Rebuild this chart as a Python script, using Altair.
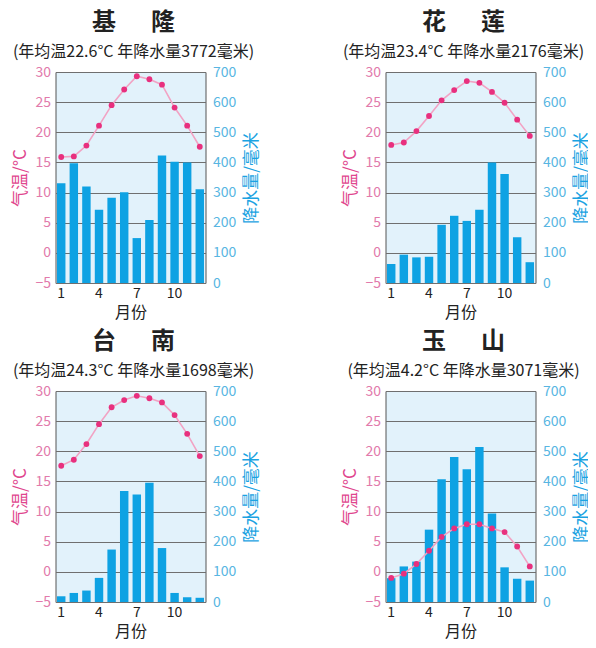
import altair as alt
import pandas as pd

months = list(range(1, 13))

GAP = "\u3000\u00a0\u00a0"
names = ["基" + GAP + "隆", "花" + GAP + "莲", "台" + GAP + "南", "玉" + GAP + "山"]
LEAD = "\u00a0"
subtitles = [
    LEAD + "(年均温22.6°C  年降水量3772毫米)",
    LEAD + "(年均温23.4°C  年降水量2176毫米)",
    LEAD + "(年均温24.3°C  年降水量1698毫米)",
    LEAD + "(年均温4.2°C  年降水量3071毫米)",
]

keelung_temp = [15.9, 16.0, 17.8, 21.1, 24.5, 27.1, 29.3, 28.8, 27.9, 24.1, 21.1, 17.6]
keelung_prec = [331, 397, 320, 243, 283, 301, 149, 209, 423, 402, 400, 311]

hualien_temp = [17.9, 18.3, 20.2, 22.7, 25.3, 27.0, 28.5, 28.2, 26.7, 24.9, 22.1, 19.4]
hualien_prec = [63, 94, 85, 87, 193, 223, 206, 243, 400, 362, 152, 69]

tainan_temp = [17.6, 18.6, 21.2, 24.5, 27.3, 28.5, 29.2, 28.8, 28.1, 26.0, 22.9, 19.2]
tainan_prec = [19, 30, 38, 80, 174, 368, 357, 396, 179, 30, 16, 14]

yushan_temp = [-1.0, -0.3, 1.3, 3.5, 5.8, 7.2, 7.9, 7.9, 7.2, 6.6, 4.2, 0.9]
yushan_prec = [79, 118, 134, 240, 407, 481, 440, 514, 294, 115, 77, 71]

temp_ticks = [-5, 0, 5, 10, 15, 20, 25, 30]
prec_ticks = [0, 100, 200, 300, 400, 500, 600, 700]
month_ticks = [1, 4, 7, 10]

BAR = "#0ea2e3"
LINE = "#f2a3c4"
DOT = "#e8307e"
PINK_LABEL = "#e27aab"
PINK_TITLE = "#e0468e"
BLUE_LABEL = "#58b6e2"
BLUE_TITLE = "#1ba3e2"
FONT = "Noto Sans CJK SC"


def panel(name, sub, temps, precs):
    df = pd.DataFrame({"month": months, "temp": temps, "prec": precs})
    xenc = alt.X(
        "month:O",
        scale=alt.Scale(paddingInner=0.33, paddingOuter=0.12),
        axis=alt.Axis(
            values=month_ticks, title="月份", labelAngle=0, ticks=False, domain=False,
            labelColor="#222", labelFontSize=14, titleFontSize=16, titleFontWeight="normal",
            titleColor="#222", labelPadding=3, titlePadding=4,
        ),
    )
    bars = alt.Chart(df).mark_bar(color=BAR).encode(
        x=xenc,
        y=alt.Y(
            "prec:Q",
            scale=alt.Scale(domain=[0, 700], nice=False),
            axis=alt.Axis(
                orient="right", values=prec_ticks, grid=False, ticks=False, domain=False,
                labelColor=BLUE_LABEL, labelFontSize=14, labelPadding=7,
                title="降水量/毫米", titleAngle=270, titleBaseline="top", titleColor=BLUE_TITLE,
                titleFontSize=17, titleFontWeight="normal", titlePadding=8,
            ),
        ),
    )
    tenc = alt.Y(
        "temp:Q",
        scale=alt.Scale(domain=[-5, 30], nice=False),
        axis=alt.Axis(
            orient="left", values=temp_ticks, grid=True, gridColor="#6f6f6f", gridWidth=1,
            ticks=False, domain=False, labelColor=PINK_LABEL, labelFontSize=14, labelPadding=5,
            title="气温/°C", titleColor=PINK_TITLE, titleFontSize=17,
            titleFontWeight="normal", titlePadding=5,
        ),
    )
    line = alt.Chart(df).mark_line(color=LINE, strokeWidth=1.6).encode(x=xenc, y=tenc)
    pts = alt.Chart(df).mark_circle(color=DOT, size=34, opacity=1).encode(x=xenc, y=tenc)
    return (
        alt.layer(bars, alt.layer(line, pts))
        .resolve_scale(y="independent")
        .properties(
            width=150,
            height=211,
            title=alt.TitleParams(
                text=name, subtitle=sub, fontSize=24, fontWeight="bold", color="#222",
                font=FONT, subtitleFont=FONT, subtitleFontSize=16, subtitleColor="#222",
                subtitlePadding=9, offset=5, anchor="middle", dx=3,
            ),
        )
    )


panels = [
    panel(names[0], subtitles[0], keelung_temp, keelung_prec),
    panel(names[1], subtitles[1], hualien_temp, hualien_prec),
    panel(names[2], subtitles[2], tainan_temp, tainan_prec),
    panel(names[3], subtitles[3], yushan_temp, yushan_prec),
]

chart = (
    alt.concat(*panels, columns=2, spacing={"row": 108, "column": 180}, bounds="flush")
    .properties(
        autosize=alt.AutoSizeParams(type="none"),
        padding={"left": 47.5, "top": 64, "right": 532, "bottom": 568},
        background="white",
    )
    .configure(font=FONT)
    .configure_view(fill="#e2f2fb", stroke="#555555", strokeWidth=1)
)

chart.save("out.html", embed_options={"renderer": "svg", "actions": False})
